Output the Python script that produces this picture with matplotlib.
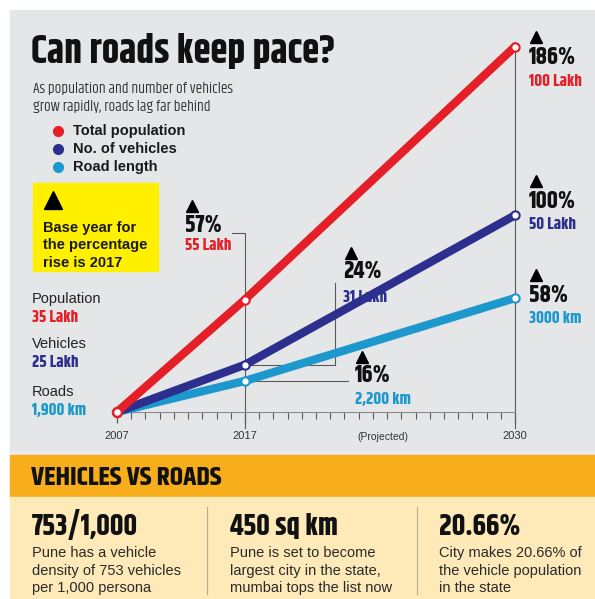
import numpy as np
import matplotlib.pyplot as plt
from matplotlib import font_manager as fm
from matplotlib.patches import Rectangle

# ---- data ----
years = [2007, 2017, 2030]
year_slot = [0, 9, 28]          # slots on the (uneven) time axis, one per minor tick
pop_lakh = [35, 55, 100]
veh_lakh = [25, 31, 50]
road_km = [1900, 2200, 3000]
pop_labels = ['35 Lakh', '55 Lakh', '100 Lakh']
veh_labels = ['25 Lakh', '31 Lakh', '50 Lakh']
road_labels = ['1,900 km', '2,200 km', '3000 km']
pop_rise = ['57%', '186%']
veh_rise = ['24%', '100%']
road_rise = ['16%', '58%']

facts = ['753/1,000', '450 sq km', '20.66%']
fact_text = [
    'Pune has a vehicle\ndensity of 753 vehicles\nper 1,000 persona',
    'Pune is set to become\nlargest city in the state,\nmumbai tops the list now',
    'City makes 20.66% of\nthe vehicle population\nin the state',
]

RED = '#e41f28'
NAVY = '#2c2f8d'
CYAN = '#1c98cc'
GRID = '#5a5a5a'

have = set(f.name for f in fm.fontManager.ttflist)


def pick(*cands):
    for c in cands:
        if c in have:
            return [c, 'DejaVu Sans']
    return ['DejaVu Sans']


COND = pick('Khand', 'Barlow Condensed', 'Archivo Narrow', 'Asap Condensed')
SANS = pick('Liberation Sans', 'Arimo', 'Roboto')


def growth(v):
    v = np.asarray(v, dtype=float)
    return (v / v[0] - 1) * 100


pop_pct = growth(pop_lakh)
veh_pct = growth(veh_lakh)
road_pct = growth(road_km)

W, H = 595, 599
fig = plt.figure(figsize=(W / 100, H / 100), dpi=100)
fig.patch.set_facecolor('white')

# background / layout axes in pixel units
bg = fig.add_axes([0, 0, 1, 1])
bg.set_xlim(0, W)
bg.set_ylim(H, 0)
bg.axis('off')
bg.add_patch(Rectangle((10, 10), W - 10, 441, color='#e5e6e8', zorder=0))
bg.add_patch(Rectangle((10, 451), W - 10, 4, color='#ece8ef', zorder=0))
bg.add_patch(Rectangle((10, 455), W - 10, 42, color='#f8ae1a', zorder=0))
bg.add_patch(Rectangle((10, 497), W - 10, H - 497, color='#fdeab8', zorder=0))

# ---- header ----
bg.text(31, 63, 'Can roads keep pace?', fontsize=28, fontweight='bold',
        family=COND, color='#111111', va='baseline')
bg.text(33, 93, 'As population and number of vehicles', fontsize=11,
        family=COND, color='#333333', va='baseline')
bg.text(33, 111, 'grow rapidly, roads lag far behind', fontsize=11,
        family=COND, color='#333333', va='baseline')

for yy, c, name in zip([131, 149, 167], [RED, NAVY, CYAN],
                       ['Total population', 'No. of vehicles', 'Road length']):
    bg.plot(58, yy, 'o', ms=7, color=c)
    bg.text(73, yy, name, fontsize=10.5, fontweight='bold', family=SANS,
            color='#1a1a1a', va='center')

bg.add_patch(Rectangle((33, 183), 125, 88, color='#fff000', zorder=1))
bg.plot(53, 200, '^', ms=13, color='black', zorder=2)
for yy, s in zip([232, 249.5, 267], ['Base year for', 'the percentage', 'rise is 2017']):
    bg.text(43, yy, s, fontsize=10.5, fontweight='bold', family=SANS,
            color='#1a1a1a', va='baseline', zorder=2)

# left labels (2007 values)
for yy, name, lab, c in zip([299, 344, 392], ['Population', 'Vehicles', 'Roads'],
                            [pop_labels[0], veh_labels[0], road_labels[0]],
                            [RED, NAVY, CYAN]):
    bg.text(32, yy, name, fontsize=10.5, family=SANS, color='#222222', va='center')
    bg.text(32, yy + 18, lab, fontsize=12, fontweight='bold', family=COND,
            color=c, va='center')

# ---- chart ----
X0, X1, Y0, Y1 = 117, 515, 412, 46
ax = fig.add_axes([X0 / W, 1 - Y0 / H, (X1 - X0) / W, (Y0 - Y1) / H])
ax.set_xlim(0, 28)
ax.set_ylim(0, 186)
ax.patch.set_alpha(0)
for s in ['top', 'right', 'left']:
    ax.spines[s].set_visible(False)
ax.spines['bottom'].set_color('#8a8a8a')
ax.spines['bottom'].set_linewidth(0.8)
ax.set_yticks([])
ax.set_xticks(year_slot, labels=[str(y) for y in years])
ax.set_xticks(np.arange(0, 29), minor=True)
ax.tick_params(axis='x', which='major', length=8, width=0.9, color=GRID,
               pad=6, labelsize=8, labelcolor='#333333')
ax.tick_params(axis='x', which='minor', length=5, width=0.8, color=GRID)
for lab in ax.get_xticklabels():
    lab.set_family(SANS)


def dx(px):
    return (px - X0) / (X1 - X0) * 28


def dy(py):
    return (Y0 - py) / (Y0 - Y1) * 186


# connectors
ax.plot([28, 28], [dy(428), 186], color=GRID, lw=0.8, clip_on=False, zorder=1)
ax.plot([dx(232), 9, 9], [dy(233), dy(233), dy(428)], color=GRID, lw=0.8,
        clip_on=False, zorder=1)
ax.plot([9, dx(335), dx(335)], [veh_pct[1], veh_pct[1], dy(283)], color=GRID,
        lw=0.8, clip_on=False, zorder=1)
ax.plot([9, dx(348)], [road_pct[1], road_pct[1]], color=GRID, lw=0.8,
        clip_on=False, zorder=1)

for pct, c, z in [(road_pct, CYAN, 3), (veh_pct, NAVY, 4), (pop_pct, RED, 5)]:
    ax.plot(year_slot, pct, color=c, lw=6, solid_capstyle='round',
            solid_joinstyle='round', clip_on=False, zorder=z)
    ax.plot(year_slot[1:], pct[1:], 'o', ms=6, mfc='white', mec=c, mew=1.5,
            clip_on=False, zorder=z + 0.5)
ax.plot(year_slot[0], pop_pct[0], 'o', ms=6.5, mfc='white', mec=RED, mew=1.8,
        clip_on=False, zorder=6)

bg.text(383, 437, '(Projected)', fontsize=7.5, family=SANS, color='#333333',
        ha='center', va='center')

# rise annotations: (triangle x, triangle y, text x, pct y, value y)
notes = [
    (192, 206, 185, 224, 245, pop_rise[0], pop_labels[1], RED),
    (351, 253, 343, 270, 297, veh_rise[0], veh_labels[1], NAVY),
    (362, 357, 355, 375, 399, road_rise[0], road_labels[1], CYAN),
    (536, 37, 529, 57, 81, pop_rise[1], pop_labels[2], RED),
    (536, 181, 529, 200, 224, veh_rise[1], veh_labels[2], NAVY),
    (536, 275, 529, 294, 318, road_rise[1], road_labels[2], CYAN),
]
for tx, ty, x, yp, yv, p, v, c in notes:
    bg.plot(tx, ty, '^', ms=8, color='black', zorder=7)
    bg.text(x, yp, p, fontsize=17, fontweight='bold', family=COND,
            color='#111111', va='center', zorder=7)
    bg.text(x, yv, v, fontsize=12, fontweight='bold', family=COND,
            color=c, va='center', zorder=2)

# ---- bottom band ----
bg.text(31, 485, 'VEHICLES VS ROADS', fontsize=19.5, fontweight='bold',
        family=COND, color='#111111', va='baseline')
for x, big, small in zip([32, 230, 439], facts, fact_text):
    bg.text(x, 535, big, fontsize=21, fontweight='bold', family=COND,
            color='#111111', va='baseline')
    for k, line in enumerate(small.split('\n')):
        bg.text(x, 557 + 17.5 * k, line, fontsize=10.5, family=SANS,
                color='#2a2a2a', va='baseline')
for x in [207, 417]:
    bg.plot([x, x], [507, 594], color='#b9ad90', lw=0.8)

fig.savefig('out.png', dpi=100)
